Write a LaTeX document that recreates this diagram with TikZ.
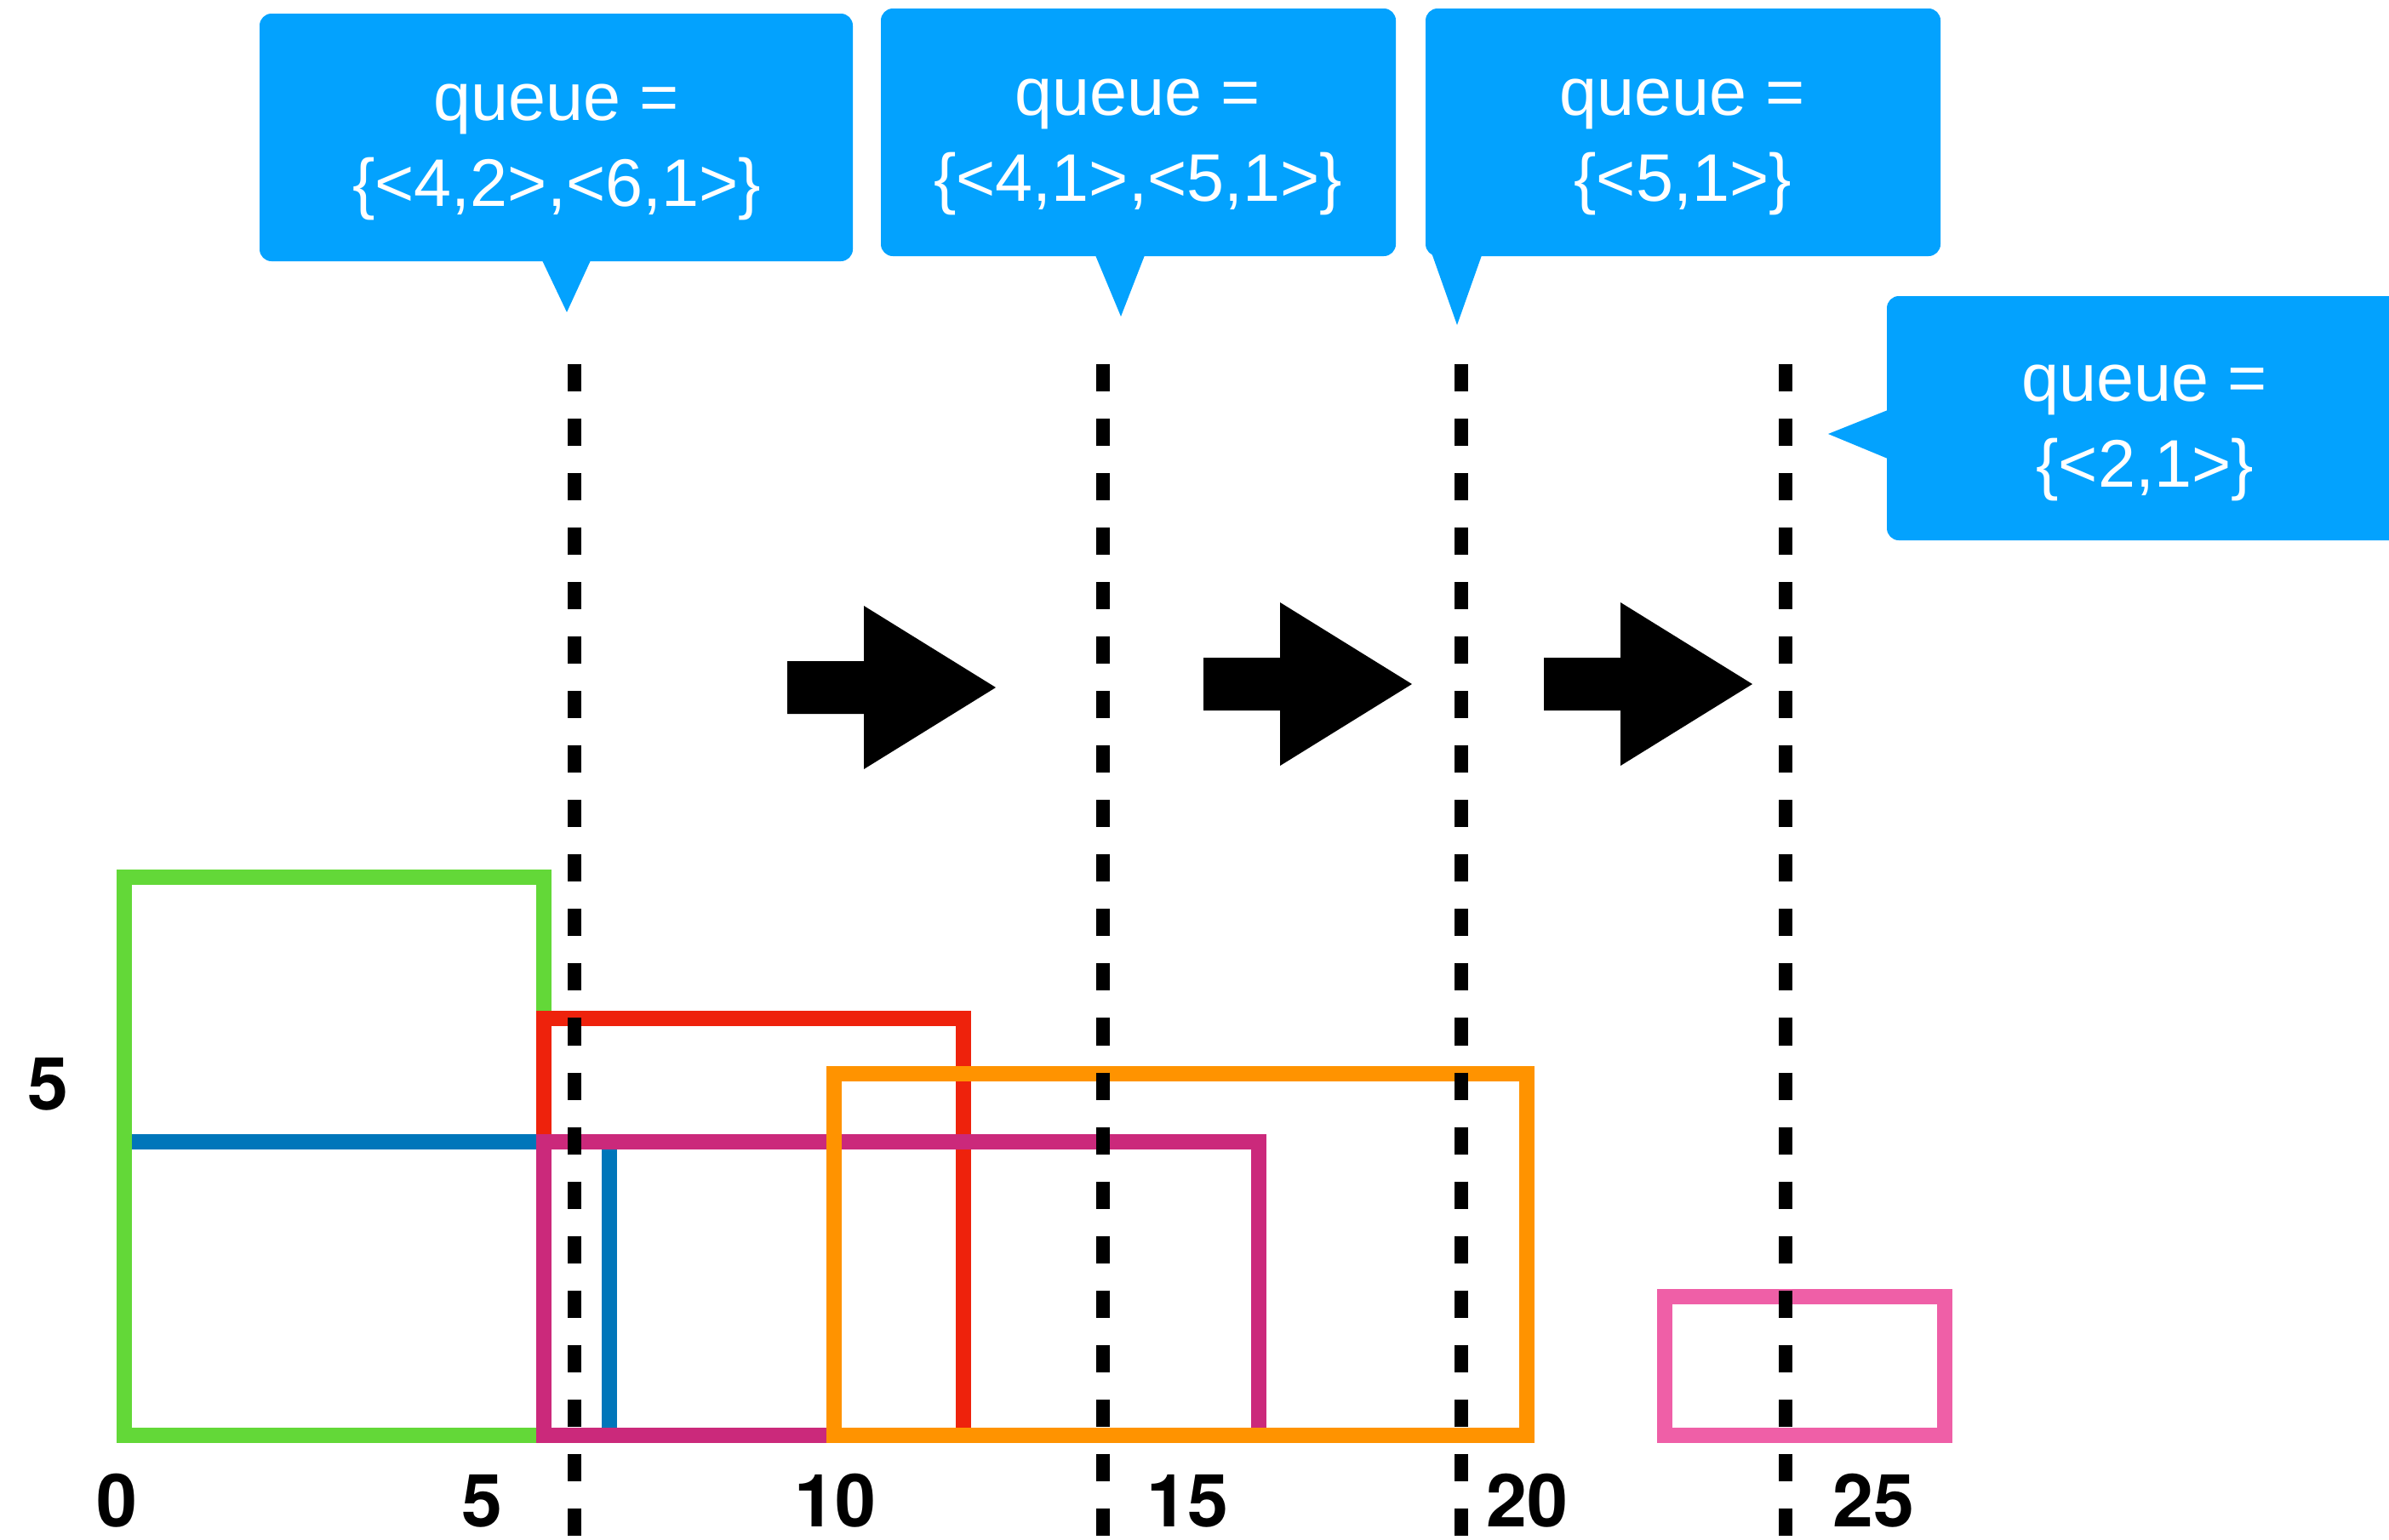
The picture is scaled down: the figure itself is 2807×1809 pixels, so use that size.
\documentclass[tikz,border=0pt]{standalone}
\usepackage{fontspec}
\setmainfont{TeX Gyre Heros}
\newfontfamily\calloutfont{Liberation Sans}

\definecolor{qblue}{RGB}{3,162,254}
\definecolor{bgreen}{RGB}{99,216,56}
\definecolor{bred}{RGB}{238,34,12}
\definecolor{borange}{RGB}{255,147,0}
\definecolor{bmagenta}{RGB}{203,41,123}
\definecolor{bblue}{RGB}{0,118,186}
\definecolor{bpink}{RGB}{239,95,167}

\tikzset{
  bldg/.style={line width=0.18cm},
  cutline/.style={line width=0.155cm, dash pattern=on 0.32cm off 0.32cm},
  qbox/.style={fill=qblue, rounded corners=0.14cm},
  qtext/.style={text=white, align=center, inner sep=0pt, font=\calloutfont\fontsize{22.5}{28.5}\selectfont},
  axislabel/.style={inner sep=0pt, font=\fontsize{24.5}{28}\selectfont\bfseries},
}

\begin{document}
\begin{tikzpicture}[x=0.01cm, y=-0.01cm]
\useasboundingbox (0,0) rectangle (2807,1809);

% buildings
\draw[bldg, bblue] (146,1342) rectangle (716,1687);
\draw[bldg, bgreen] (146,1031) rectangle (639,1687);
\draw[bldg, bred] (639,1197) rectangle (1132,1687);
\draw[bldg, bmagenta] (639,1342) rectangle (1479,1687);
\draw[bldg, borange] (980,1262) rectangle (1794,1687);
\draw[bldg, bpink] (1956,1524) rectangle (2285,1687);

% sweep positions
\foreach \sx in {675,1296,1717,2098}
  \draw[cutline] (\sx,428) -- (\sx,1830);

% axis
\node[axislabel] (x0) at (137,1764) {0};
\node[axislabel] (x5) at (566,1764) {5};
\node[axislabel] (x10) at (981,1764) {10};
\node[axislabel] (x15) at (1395,1764) {15};
\node[axislabel] (x20) at (1794,1764) {20};
\node[axislabel] (x25) at (2201,1764) {25};
\node[axislabel] (y5) at (56,1274) {5};

% step arrows
\foreach \ax/\ay in {925/808, 1414/804, 1814/804}
  \fill (\ax,\ay-31) -- (\ax+90,\ay-31) -- (\ax+90,\ay-96) -- (\ax+245,\ay)
    -- (\ax+90,\ay+96) -- (\ax+90,\ay+31) -- (\ax,\ay+31) -- cycle;

% queue callouts
\fill[qbox] (305,16) rectangle (1002,307);
\fill[qblue] (637,306) -- (666,367) -- (694,306) -- cycle;
\node[qtext] (q1) at (654,179) {queue =\\\{<4,2>,<6,1>\}};

\fill[qbox] (1035,10) rectangle (1640,301);
\fill[qblue] (1287,300) -- (1317,372) -- (1345,300) -- cycle;
\node[qtext] (q2) at (1337,173) {queue =\\\{<4,1>,<5,1>\}};

\fill[qbox] (1675,10) rectangle (2280,301);
\fill[qblue] (1676,285) -- (1683,300) -- (1712,382) -- (1741,300) -- cycle;
\node[qtext] (q3) at (1977,173) {queue =\\\{<5,1>\}};

\fill[qbox] (2217,348) rectangle (2840,635);
\fill[qblue] (2218,482) -- (2148,510) -- (2218,539) -- cycle;
\node[qtext] (q4) at (2520,509) {queue =\\\{<2,1>\}};
\end{tikzpicture}
\end{document}
